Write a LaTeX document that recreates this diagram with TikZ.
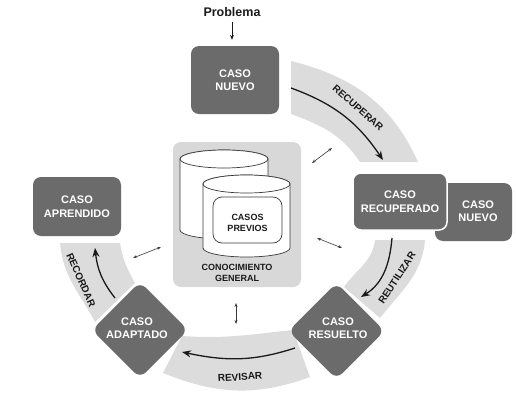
\documentclass[tikz,border=0pt]{standalone}
\usepackage{fontspec}
\setsansfont{Liberation Sans}
\usepackage{tikz}
\usetikzlibrary{
  positioning, arrows.meta, calc,
}
\definecolor{cCase}{HTML}{6B6B6B}
\definecolor{cBand}{HTML}{DCDCDC}
\definecolor{cBase}{HTML}{D8D8D8}
\definecolor{cInk}{HTML}{1A1A1A}
\definecolor{cLink}{HTML}{3A3A3A}

\begin{document}
\begin{tikzpicture}[x=1pt, y=1pt,
    casebox/.style={fill=cCase, rounded corners=8pt, inner sep=0pt},
    casetext/.style={text=white, font=\sffamily\bfseries\fontsize{11}{13.5}\selectfont, align=center},
    band/.style={fill=cBand},
    bandlabel/.style={text=cInk, font=\sffamily\bfseries\fontsize{10}{12}\selectfont},
    flow/.style={-{Stealth[length=9pt, width=7pt]}, line width=1.3pt, draw=cInk},
    link/.style={{Stealth[length=4pt, width=3pt]}-{Stealth[length=4pt, width=3pt]}, line width=0.6pt, draw=cLink},
    drum/.style={draw=cLink, line width=0.7pt, fill=white},
    basetext/.style={text=cInk, font=\sffamily\bfseries\fontsize{9}{11}\selectfont, align=center},
  ]
  \useasboundingbox (0,0) rectangle (516,400);

  % bands of the cycle
  \fill[band] (291,339) to[out=-14, in=114] (418,238) -- (360,238) to[out=124, in=-20] (291,286) -- cycle;
  \fill[band] (425,160) to[out=-95, in=52] (380,82) -- (344,113) to[out=55, in=-97] (375,160) -- cycle;
  \fill[band] (310,23) to[out=200, in=-22] (163,27) -- (182,64) to[out=-4, in=-174] (293,70) -- cycle;
  \fill[band] (95,78) to[out=118, in=-85] (60,157) -- (120,157) to[out=-81, in=119] (135,117) -- cycle;

  \coordinate (recA) at (291,312);
  \coordinate (recB) at (383,240);
  \coordinate (reuA) at (392,162);
  \coordinate (reuB) at (361,103);
  \coordinate (revA) at (295,52);
  \coordinate (revB) at (182,48);
  \coordinate (rcdA) at (115,102);
  \coordinate (rcdB) at (95,152);
  \draw[flow] (recA) to[out=-20, in=124] (recB);
  \draw[flow] (reuA) to[out=-95, in=32] (reuB);
  \draw[flow] (revA) to[out=198, in=-12] (revB);
  \draw[flow] (rcdA) to[out=128, in=-84] (rcdB);

  \node[bandlabel, rotate=-41] (recuperar) at (358,292) {RECUPERAR};
  \node[bandlabel, rotate=57] (reutilizar) at (397,122) {REUTILIZAR};
  \node[bandlabel, rotate=4] (revisar) at (240,23) {REVISAR};
  \node[bandlabel, rotate=-66] (recordar) at (81,120) {RECORDAR};

  % cases
  \node[font=\sffamily\bfseries\fontsize{12.5}{14}\selectfont, text=cInk] (problema) at (232,388) {Problema};
  \node[casebox, casetext, minimum width=88pt, minimum height=68pt] (nuevo) at (235,320) {CASO\\NUEVO};
  \draw[-{Stealth[length=5pt, width=4pt]}, line width=0.8pt, draw=cInk, shorten <=2pt, shorten >=6pt]
       (problema.south) -- (problema.south |- nuevo.north);
  \node[casebox, casetext, minimum width=88pt, minimum height=59pt] (aprendido) at (77,193.5) {CASO\\APRENDIDO};
  \node[casebox, minimum width=77pt, minimum height=58pt] (nuevobox) at (473.5,188) {};
  \node[casetext] (nuevodos) at (478,189) {CASO\\NUEVO};
  \node[casebox, casetext, draw=white, line width=1.5pt, minimum width=94pt, minimum height=57pt] (recuperado) at (400,198.5) {CASO\\RECUPERADO};
  \node[casebox, rotate=45, minimum size=68pt] (adaptadobox) at (140,70) {};
  \node[casetext] (adaptado) at (137,72) {CASO\\ADAPTADO};
  \node[casebox, rotate=45, minimum size=68pt] (resueltobox) at (336.5,69) {};
  \node[casetext] (resuelto) at (338,72) {CASO\\RESUELTO};

  % knowledge base
  \node[fill=cBase, rounded corners=8pt, minimum width=128pt, minimum height=145pt] (base) at (237,185.5) {};
  \draw[drum] (180,241) -- (180,170) arc[start angle=180, end angle=360, x radius=44pt, y radius=9pt]
       -- (268,241) arc[start angle=0, end angle=180, x radius=44pt, y radius=9pt] -- cycle;
  \draw[drum] (224,241) ellipse[x radius=44pt, y radius=9pt];
  \draw[drum] (203,216) -- (203,152) arc[start angle=180, end angle=360, x radius=43.5pt, y radius=9pt]
       -- (290,216) arc[start angle=0, end angle=180, x radius=43.5pt, y radius=9pt] -- cycle;
  \draw[drum] (246.5,216) ellipse[x radius=43.5pt, y radius=9pt];
  \node[drum, rounded corners=9pt, minimum width=69pt, minimum height=46pt] (previosbox) at (247.5,180) {};
  \node[basetext] (previos) at (247.5,177) {CASOS\\PREVIOS};
  \node[basetext] (conocimiento) at (237,127.5) {CONOCIMIENTO\\GENERAL};

  \coordinate (lnkA) at (312,237);
  \coordinate (lnkB) at (332,252);
  \coordinate (lnkC) at (317,162);
  \coordinate (lnkD) at (342,152);
  \coordinate (lnkE) at (161,153);
  \coordinate (lnkF) at (133,142);
  \coordinate (lnkG) at (236,97);
  \coordinate (lnkH) at (236,76);
  \draw[link] (lnkA) -- (lnkB);
  \draw[link] (lnkC) -- (lnkD);
  \draw[link] (lnkE) -- (lnkF);
  \draw[link] (lnkG) -- (lnkH);
\end{tikzpicture}
\end{document}
